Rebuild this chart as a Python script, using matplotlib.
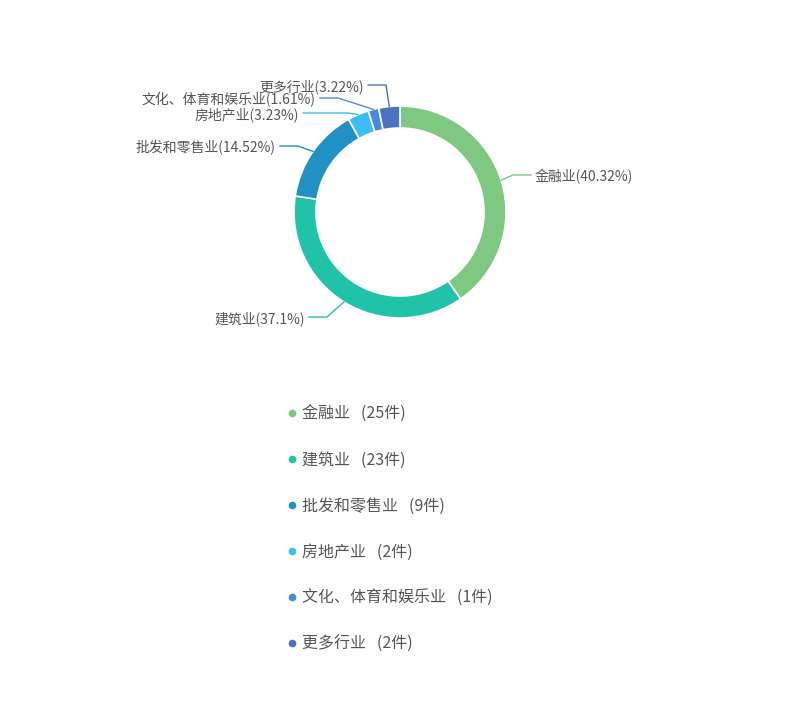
import matplotlib
matplotlib.use('Agg')
import matplotlib.pyplot as plt
import numpy as np

plt.rcParams['font.family'] = ['Noto Sans CJK SC', 'DejaVu Sans']

# industry distribution (count of cases)
industries = ['金融业', '建筑业', '批发和零售业', '房地产业', '文化、体育和娱乐业', '更多行业']
counts = [25, 23, 9, 2, 1, 2]
pct_labels = ['40.32%', '37.1%', '14.52%', '3.23%', '1.61%', '3.22%']
colors = ['#7ec882', '#21c3a8', '#2190c2', '#3fbcf0', '#4a87e1', '#4a72be']

W, H = 800, 706
fig = plt.figure(figsize=(W / 100, H / 100), dpi=100)
ax = fig.add_axes([0, 0, 1, 1])

# pixel coords, y pointing down -> counterclock in data = clockwise on screen
cx, cy, r_out, ring = 400, 212, 106, 22
wedges, _ = ax.pie(counts, colors=colors, startangle=-90, counterclock=True,
                   center=(cx, cy), radius=r_out, frame=True,
                   wedgeprops=dict(width=ring, edgecolor='white', linewidth=1.2))
ax.set_xlim(0, W)
ax.set_ylim(H, 0)
ax.set_aspect('equal')
ax.axis('off')

# leader line elbows (layout only): elbow point, end of horizontal run
elbows = [(513, 175), (327, 317), (298, 146), (348, 113), (338, 98), (386, 85)]
run = 18
for w, name, pct, col, (ex, ey) in zip(wedges, industries, pct_labels, colors, elbows):
    mid = np.deg2rad((w.theta1 + w.theta2) / 2)
    sx, sy = cx + r_out * np.cos(mid), cy + r_out * np.sin(mid)
    side = 1 if ex > cx else -1
    end_x = ex + side * run if name != '房地产业' else ex - 45
    ax.plot([sx, ex, end_x], [sy, ey, ey], color=col, lw=1)
    ax.text(end_x + side * 4, ey + 1.5, f'{name}({pct})', ha='left' if side > 0 else 'right',
            va='center', fontsize=10, color='#555555')

# legend
for i, (name, n, col) in enumerate(zip(industries, counts, colors)):
    y = 413 + i * 46
    ax.plot(292, y, 'o', color=col, ms=4.5)
    ax.text(302, y + 1.5, f'{name}   ({n}件)', ha='left', va='center', fontsize=11.5, color='#555555')

fig.savefig('out.png', dpi=100)
